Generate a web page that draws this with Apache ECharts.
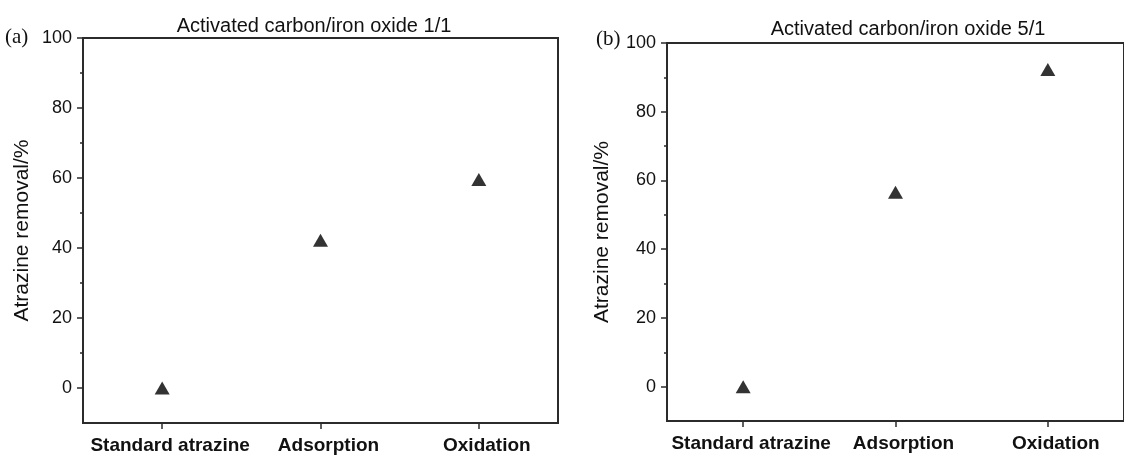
<!DOCTYPE html>
<html>
<head>
<meta charset="utf-8">
<script src="https://cdn.jsdelivr.net/npm/echarts@6/dist/echarts.min.js"></script>
<style>
  html, body { margin: 0; padding: 0; background: #fff; }
  #chart { width: 1124px; height: 460px; }
</style>
</head>
<body>
<div id="chart"></div>
<script>
// categories on x
const categories = ['Standard atrazine', 'Adsorption', 'Oxidation'];
// atrazine removal, %
const removalA = [0, 42.2, 59.6]; // AC/iron oxide 1/1
const removalB = [0, 56.6, 92.3]; // AC/iron oxide 5/1
const majorTicks = [0, 20, 40, 60, 80, 100];
const minorTicks = [10, 30, 50, 70, 90];
const titles = ['Activated carbon/iron oxide 1/1', 'Activated carbon/iron oxide 5/1'];

const myChart = echarts.init(document.getElementById('chart'));

const grids = [
  { left: 83, top: 38, width: 475, height: 385 },
  { left: 667, top: 43, width: 466, height: 378 }
];
const nameGaps = [50, 54];

const fontSans = 'Liberation Sans, Arial, sans-serif';
const fontSerif = 'Liberation Serif, Times New Roman, serif';
const lineColor = '#2b2b2b';

function xAxisFor(i) {
  return {
    type: 'category',
    gridIndex: i,
    data: categories,
    boundaryGap: true,
    axisLine: { onZero: false, lineStyle: { color: lineColor, width: 2 } },
    axisTick: { show: true, interval: 0, alignWithLabel: true, length: 6, lineStyle: { color: lineColor, width: 1.5 } },
    axisLabel: {
      interval: 0, margin: 13, padding: [0, 0, 0, 16],
      color: '#111', fontSize: 19, fontWeight: 'bold', fontFamily: fontSans
    },
    splitLine: { show: false }
  };
}

function yAxesFor(i) {
  return [{
    type: 'value',
    gridIndex: i,
    min: -10,
    max: 100,
    name: 'Atrazine removal/%',
    nameLocation: 'middle',
    nameGap: nameGaps[i],
    nameTextStyle: { color: '#111', fontSize: 21, fontFamily: fontSans },
    axisLine: { show: true, onZero: false, lineStyle: { color: lineColor, width: 2 } },
    axisTick: { show: true, length: 6, customValues: majorTicks, lineStyle: { color: lineColor, width: 1.5 } },
    axisLabel: { customValues: majorTicks, margin: 11, color: '#111', fontSize: 18, fontFamily: fontSans },
    splitLine: { show: false }
  }, {
    // short ticks in between
    type: 'value',
    gridIndex: i,
    min: -10,
    max: 100,
    position: 'left',
    axisLine: { show: false, onZero: false },
    axisTick: { show: true, length: 3, customValues: minorTicks, lineStyle: { color: lineColor, width: 1.5 } },
    axisLabel: { show: false },
    splitLine: { show: false }
  }];
}

function seriesFor(i, data) {
  return {
    type: 'scatter',
    xAxisIndex: i,
    yAxisIndex: i * 2,
    data: data,
    symbol: 'triangle',
    symbolSize: [15, 13],
    itemStyle: { color: '#000' },
    silent: true
  };
}

const option = {
  animation: false,
  backgroundColor: '#fff',
  title: [
    { text: titles[0], left: 309, top: 11, textAlign: 'center',
      textStyle: { fontSize: 20, fontWeight: 'normal', color: '#111', fontFamily: fontSans } },
    { text: titles[1], left: 903, top: 14, textAlign: 'center',
      textStyle: { fontSize: 20, fontWeight: 'normal', color: '#111', fontFamily: fontSans } }
  ],
  grid: grids.map(g => Object.assign({ show: true, borderColor: lineColor, borderWidth: 2, backgroundColor: 'transparent' }, g)),
  xAxis: [xAxisFor(0), xAxisFor(1)],
  yAxis: yAxesFor(0).concat(yAxesFor(1)),
  series: [seriesFor(0, removalA), seriesFor(1, removalB)],
  graphic: [
    { type: 'text', left: 5, top: 27, style: { text: '(a)', fontSize: 21, fontFamily: fontSerif, fill: '#111' } },
    { type: 'text', left: 596, top: 29, style: { text: '(b)', fontSize: 21, fontFamily: fontSerif, fill: '#111' } }
  ]
};

myChart.setOption(option, true);
</script>
</body>
</html>
